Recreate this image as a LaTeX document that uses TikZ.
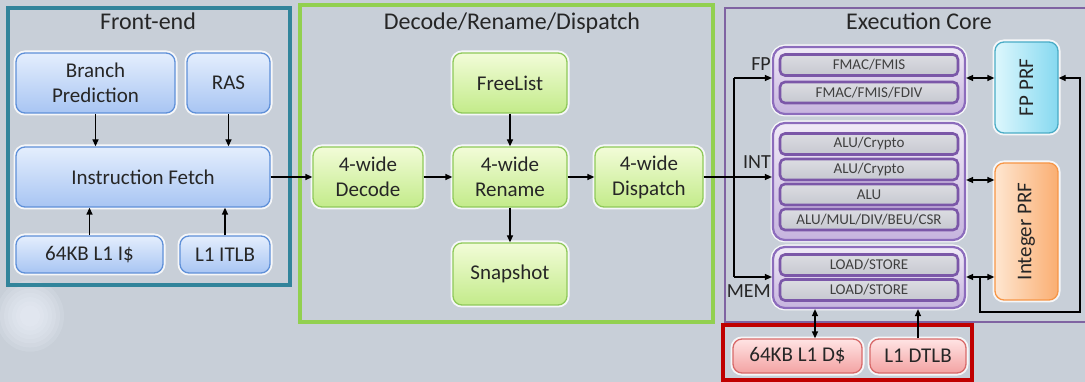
\documentclass[tikz,border=0pt]{standalone}
\usepackage{fontspec}
\setmainfont{Carlito}
\usepackage{graphicx}
\usetikzlibrary{arrows.meta}

\definecolor{bg}{HTML}{C8CFD8}
\definecolor{txt}{HTML}{262626}
\definecolor{rowtxt}{HTML}{404040}
\definecolor{frontC}{HTML}{31849B}
\definecolor{decC}{HTML}{92D050}
\definecolor{execC}{HTML}{8064A2}
\definecolor{memC}{HTML}{C00000}
\definecolor{blueB}{HTML}{5F90D8}
\definecolor{blueT}{HTML}{E4EEFD}
\definecolor{blueD}{HTML}{A8C5F3}
\definecolor{greenB}{HTML}{8FC95A}
\definecolor{greenT}{HTML}{F2FCD8}
\definecolor{greenD}{HTML}{C3EB8A}
\definecolor{redB}{HTML}{D86A6A}
\definecolor{redT}{HTML}{FFE4E4}
\definecolor{redD}{HTML}{F3A2A2}
\definecolor{cyanB}{HTML}{4BACC6}
\definecolor{cyanL}{HTML}{DDF7FD}
\definecolor{cyanR}{HTML}{86D9F0}
\definecolor{orangeB}{HTML}{F79646}
\definecolor{orangeL}{HTML}{FEE6D0}
\definecolor{orangeR}{HTML}{FAAE72}
\definecolor{clusB}{HTML}{8C6CBC}
\definecolor{clusT}{HTML}{F0EAF7}
\definecolor{clusD}{HTML}{C6B4DE}
\definecolor{rowB}{HTML}{7B57A8}
\definecolor{rowT}{HTML}{DCDDE2}
\definecolor{rowD}{HTML}{C6C8D0}
\definecolor{cloud}{HTML}{F2F7FF}

\tikzset{
  glow/.style={preaction={draw=white, line width=5pt, opacity=0.85}},
  blk/.style={rounded corners=9pt, line width=1.3pt, glow, align=center,
    font=\fontsize{21}{25}\selectfont, text=txt, inner sep=2pt},
  bluebox/.style={blk, draw=blueB, top color=blueT, bottom color=blueD},
  greenbox/.style={blk, draw=greenB, top color=greenT, bottom color=greenD},
  redbox/.style={blk, draw=redB, top color=redT, bottom color=redD},
  fpbox/.style={blk, draw=cyanB, left color=cyanL, right color=cyanR},
  intbox/.style={blk, draw=orangeB, left color=orangeL, right color=orangeR},
  cluster/.style={rounded corners=12pt, line width=2.2pt, glow, draw=clusB,
    top color=clusT, bottom color=clusD, minimum width=192pt, inner sep=0pt},
  unitrow/.style={rounded corners=5pt, line width=2.6pt, draw=rowB,
    top color=rowT, bottom color=rowD, minimum width=178pt, minimum height=21pt,
    inner sep=0pt, font=\fontsize{15}{17}\selectfont, text=rowtxt},
  region/.style={line width=3.5pt},
  regiontitle/.style={anchor=base, font=\fontsize{24}{28}\selectfont, text=txt},
  pipelabel/.style={anchor=east, font=\fontsize{20}{24}\selectfont, text=txt, inner sep=1pt},
  arr/.style={line width=1.3pt, -{Triangle[length=7pt,width=6pt]}},
  darr/.style={line width=1.3pt, {Triangle[length=7pt,width=6pt]}-{Triangle[length=7pt,width=6pt]}},
  wire/.style={line width=1.3pt}
}

\begin{document}
\begin{tikzpicture}[x=1pt,y=-1pt]
\useasboundingbox (0,0) rectangle (1085,382);
\clip (0,0) rectangle (1085,382);

% backdrop with a soft light cloud in the lower left
\fill[bg] (0,0) rectangle (1085,382);
\foreach \r in {34,30,26,22,18,14,10}
  \fill[cloud, opacity=0.14] (30,316) ellipse ({\r} and {1.05*\r});

% region frames
\draw[region, frontC] (8,8) rectangle (290,285);
\draw[region, decC] (300,5) rectangle (713,322);
\draw[line width=2pt, execC] (725,8) rectangle (1100,322);
\draw[line width=4pt, memC] (723,325) rectangle (972,380);

\node[regiontitle] (tfront) at (148,30) {Front-end};
\node[regiontitle] (tdec) at (512,30) {Decode/Rename/Dispatch};
\node[regiontitle] (texec) at (919,30) {Execution Core};

% front-end
\node[bluebox, minimum width=159pt, minimum height=60pt] (bp) at (95.5,83) {Branch\\Prediction};
\node[bluebox, minimum width=83pt, minimum height=60pt] (ras) at (228.5,83) {RAS};
\node[bluebox, minimum width=254pt, minimum height=60pt] (ifetch) at (143,177) {Instruction Fetch};
\node[bluebox, minimum width=147pt, minimum height=37pt] (icache) at (89.5,254.5) {64KB L1 I\$};
\node[bluebox, minimum width=90pt, minimum height=37pt] (itlb) at (225,254.5) {L1 ITLB};

% decode / rename / dispatch
\node[greenbox, minimum width=114pt, minimum height=60pt] (freelist) at (510,83) {FreeList};
\node[greenbox, minimum width=110pt, minimum height=60pt] (decode) at (368,177) {4-wide\\Decode};
\node[greenbox, minimum width=114pt, minimum height=60pt] (rename) at (510,177) {4-wide\\Rename};
\node[greenbox, minimum width=108pt, minimum height=60pt] (dispatch) at (649,177) {4-wide\\Dispatch};
\node[greenbox, minimum width=114pt, minimum height=62pt] (snapshot) at (510,274) {Snapshot};

% execution clusters
\node[cluster, minimum height=67pt] (fpc) at (869,80.5) {};
\node[unitrow] (fp1) at (869,65) {FMAC/FMIS};
\node[unitrow] (fp2) at (869,92.5) {FMAC/FMIS/FDIV};

\node[cluster, minimum height=117pt] (intc) at (869,181.5) {};
\node[unitrow] (int1) at (869,144) {ALU/Crypto};
\node[unitrow] (int2) at (869,169.5) {ALU/Crypto};
\node[unitrow] (int3) at (869,194.5) {ALU};
\node[unitrow] (int4) at (869,219.5) {ALU/MUL/DIV/BEU/CSR};

\node[cluster, minimum height=61pt] (memc) at (869,277.5) {};
\node[unitrow] (mem1) at (869,265) {LOAD/STORE};
\node[unitrow] (mem2) at (869,290) {LOAD/STORE};

\node[pipelabel] (lfp) at (772,64) {FP};
\node[pipelabel] (lint) at (772,162) {INT};
\node[pipelabel] (lmem) at (772,291) {MEM};

% register files
\node[fpbox, minimum width=63pt, minimum height=91pt] (fpprf) at (1026.5,87.5) {\rotatebox{90}{FP PRF}};
\node[intbox, minimum width=63pt, minimum height=137pt] (intprf) at (1026.5,231.5) {\rotatebox{90}{Integer PRF}};

% data memory
\node[redbox, minimum width=129pt, minimum height=34pt] (dcache) at (797.5,356) {64KB L1 D\$};
\node[redbox, minimum width=96pt, minimum height=34pt] (dtlb) at (918,356) {L1 DTLB};

% front-end connections
\draw[arr] (bp.south) -- (bp.south |- ifetch.north);
\draw[arr] (ras.south) -- (ras.south |- ifetch.north);
\draw[arr] (icache.north) -- (icache.north |- ifetch.south);
\draw[arr] (itlb.north) -- (itlb.north |- ifetch.south);
\draw[arr] (ifetch.east) -- (decode.west);

% rename stage connections
\draw[arr] (decode.east) -- (rename.west);
\draw[arr] (rename.east) -- (dispatch.west);
\draw[arr] (freelist.south) -- (rename.north);
\draw[arr] (rename.south) -- (snapshot.north);

% issue to clusters
\coordinate (busT) at (734,78);
\coordinate (busB) at (734,277);
\draw[arr] (dispatch.east) -- (dispatch.east -| intc.west);
\draw[wire] (busT) -- (busB);
\draw[arr] (busT) -- (busT -| fpc.west);
\draw[arr] (busB) -- (busB -| memc.west);

% register file ports
\coordinate (intport) at (980,180);
\coordinate (ldj) at (980,277);
\coordinate (ld1) at (980,312);
\coordinate (ld2) at (1080,312);
\coordinate (ld3) at (1080,78);
\draw[darr] (fpc.east |- busT) -- (fpprf.west |- busT);
\draw[darr] (intc.east |- intport) -- (intprf.west |- intport);
\draw[darr] (memc.east |- ldj) -- (intprf.west |- ldj);
\draw[arr] (ldj) -- (ld1) -- (ld2) -- (ld3) -- (fpprf.east |- ld3);

% memory connections
\coordinate (dport) at (815,0);
\draw[darr] (memc.south -| dport) -- (dcache.north -| dport);
\draw[arr] (dtlb.north) -- (dtlb.north |- memc.south);
\end{tikzpicture}
\end{document}
